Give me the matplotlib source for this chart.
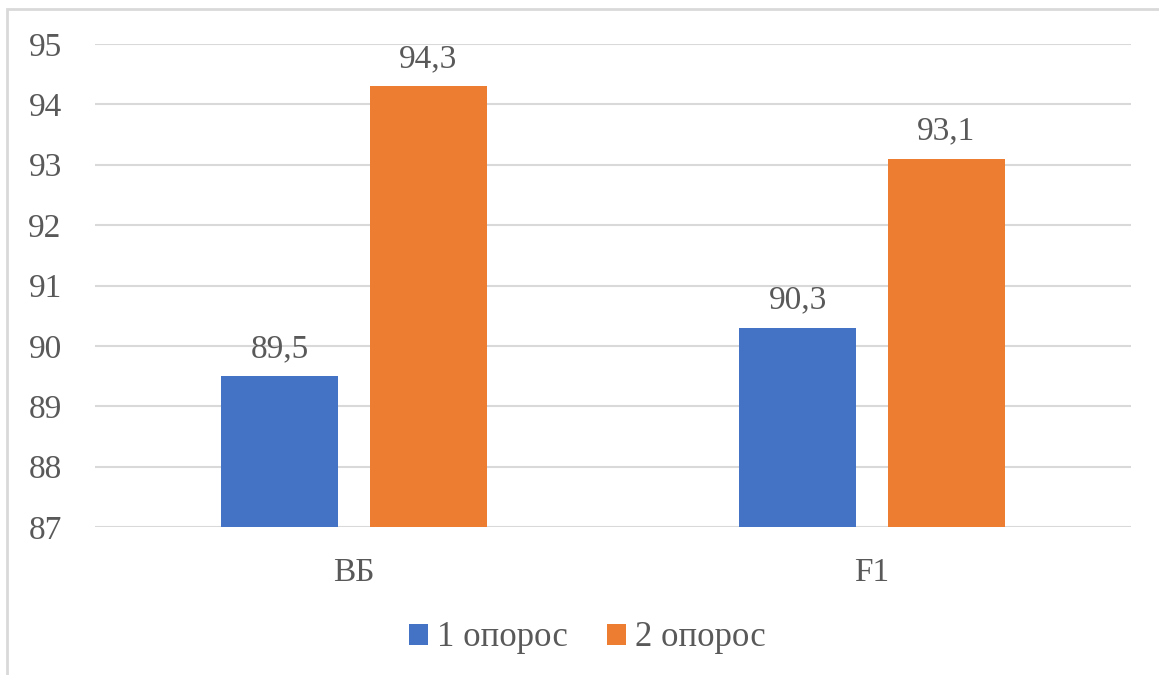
import numpy as np
import matplotlib.pyplot as plt
from matplotlib.patches import Rectangle

categories = ['ВБ', 'F1']
series_names = ['1 опорос', '2 опорос']
first_farrow = [89.5, 90.3]
second_farrow = [94.3, 93.1]
y_ticks = [87, 88, 89, 90, 91, 92, 93, 94, 95]

colors = ['#4472C4', '#ED7D31']
text_color = '#595959'
grid_color = '#D9D9D9'

plt.rcParams['font.family'] = ['Liberation Serif', 'DejaVu Serif']

fig = plt.figure(figsize=(11.59, 6.75), dpi=100)
ax = fig.add_axes([95 / 1159, 1 - 527 / 675, (1131 - 95) / 1159, (527 - 44) / 675])

x = np.arange(len(categories))
width = 0.225
offset = 0.1435
bars1 = ax.bar(x - offset, np.array(first_farrow) - 87, width, bottom=87,
               color=colors[0], label=series_names[0], zorder=3)
bars2 = ax.bar(x + offset, np.array(second_farrow) - 87, width, bottom=87,
               color=colors[1], label=series_names[1], zorder=3)

for bars, vals in ((bars1, first_farrow), (bars2, second_farrow)):
    for b, v in zip(bars, vals):
        ax.text(b.get_x() + b.get_width() / 2, v + 0.2, f'{v:.1f}'.replace('.', ','),
                ha='center', va='bottom', fontsize=24, color=text_color)

ax.set_xlim(-0.5, 1.5)
ax.set_ylim(87, 95)
ax.set_yticks(y_ticks)
ax.set_yticklabels([str(t) for t in y_ticks])
ax.set_xticks(x)
ax.set_xticklabels(categories)
ax.tick_params(axis='y', length=0, pad=24, labelsize=24, labelcolor=text_color)
ax.tick_params(axis='x', length=0, pad=22, labelsize=24, labelcolor=text_color)
ax.grid(axis='y', color=grid_color, linewidth=1.5, zorder=0)
for s in ax.spines.values():
    s.set_visible(False)

ax.legend(loc='center', bbox_to_anchor=(587 / 1159, 1 - 638 / 675),
          bbox_transform=fig.transFigure, ncol=2, frameon=False,
          fontsize=25, labelcolor=text_color, handlelength=0.55, handleheight=0.55,
          handletextpad=0.26, columnspacing=1.12)

# chart area outline
fig.patches.append(Rectangle((7 / 1159, -0.1), 1.2, 1 - 9 / 675 + 0.1,
                             transform=fig.transFigure, fill=False,
                             edgecolor='#D9D9D9', linewidth=2))

fig.savefig('out.png', dpi=100)
